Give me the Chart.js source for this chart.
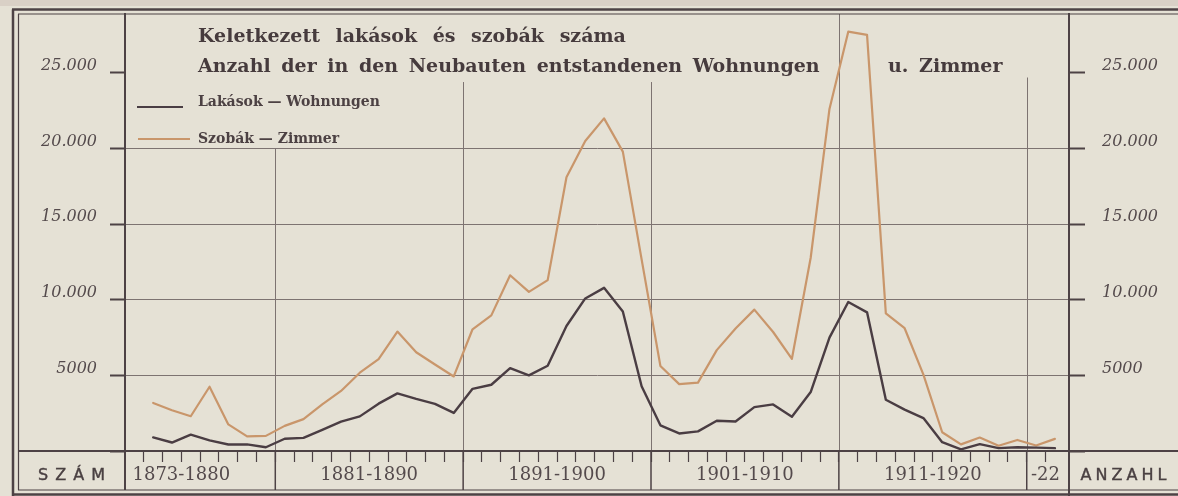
<!DOCTYPE html>
<html lang="hu">
<head>
<meta charset="utf-8">
<title>Keletkezett lakások és szobák száma</title>
<script src="https://cdn.jsdelivr.net/npm/chart.js@4.4.1/dist/chart.umd.min.js"></script>
<style>
  html, body { margin: 0; padding: 0; background: #e5e1d5; }
  #wrap { position: relative; width: 1178px; height: 496px; overflow: hidden; }
  #chart { position: absolute; left: 0; top: 0; }
  .title { position: absolute; left: 198px; font: bold 19px 'DejaVu Serif', serif; line-height: 1; color: #463b3d; white-space: nowrap; word-spacing: 4px; }
  .key { position: absolute; left: 198px; font: bold 14px 'DejaVu Serif', serif; line-height: 1; color: #4c4143; white-space: nowrap; }
  .swatch { position: absolute; height: 0; border-top: 2px solid; }
  .cell { position: absolute; top: 467px; font: 16px 'DejaVu Sans', sans-serif; line-height: 1; color: #4a4042; text-align: center; -webkit-text-stroke: 0.4px #4a4042; }
</style>
</head>
<body>
<div id="wrap">
  <canvas id="chart" width="1178" height="496"></canvas>
  <div class="title" style="top:26px; word-spacing:9px">Keletkezett lakások és szobák száma</div>
  <div class="title" style="top:56px">Anzahl der in den Neubauten entstandenen Wohnungen</div>
  <div class="title" style="top:56px; left:888px">u. Zimmer</div>
  <div class="swatch" id="sw1" style="left:137px; top:106px; width:46px"></div>
  <div class="key" style="top:94px">Lakások — Wohnungen</div>
  <div class="swatch" id="sw2" style="left:138px; top:138px; width:52px"></div>
  <div class="key" style="top:131px">Szobák — Zimmer</div>
  <div class="cell" style="left:18px; width:107px; letter-spacing:7px; padding-left:7px; box-sizing:border-box">SZÁM</div>
  <div class="cell" style="left:1069px; width:109px; letter-spacing:4px; padding-left:4px; box-sizing:border-box">ANZAHL</div>
</div>
<script>
// Yearly figures, one point per year
const years = [1874, 1875, 1876, 1877, 1878, 1879, 1880,
  1881, 1882, 1883, 1884, 1885, 1886, 1887, 1888, 1889, 1890,
  1891, 1892, 1893, 1894, 1895, 1896, 1897, 1898, 1899, 1900,
  1901, 1902, 1903, 1904, 1905, 1906, 1907, 1908, 1909, 1910,
  1911, 1912, 1913, 1914, 1915, 1916, 1917, 1918, 1919, 1920,
  1921, 1922];

// Lakások — Wohnungen
const lakasok = [900, 560, 1080, 700, 430, 440, 250,
  810, 870, 1390, 1940, 2290, 3130, 3810, 3450, 3120, 2520,
  4110, 4380, 5480, 5000, 5640, 8270, 10090, 10790, 9230, 4280,
  1700, 1160, 1300, 2000, 1950, 2900, 3080, 2260, 3900, 7500,
  9850, 9170, 3390, 2740, 2180, 580, 110, 450, 190, 245,
  220, 190];

// Szobák — Zimmer
const szobak = [3175, 2700, 2300, 4250, 1760, 965, 1000,
  1660, 2110, 3080, 3970, 5180, 6070, 7900, 6530, 5720, 4930,
  8050, 8970, 11620, 10520, 11300, 18100, 20500, 22000, 19800, 12670,
  5620, 4420, 4520, 6670, 8100, 9350, 7870, 6100, 12780, 22620,
  27730, 27520, 9100, 8120, 5050, 1240, 440, 890, 350, 730,
  360, 800];

// Period labels on the bottom strip and the year tick they sit under
const periodLabels = ['1873-1880', '1881-1890', '1891-1900', '1901-1910', '1911-1920', '-22'];
const periodLabelAt = [1876, 1886, 1896, 1906, 1916, 1922];
const periodStarts = [1881, 1891, 1901, 1911, 1921];

const yTickValues = [0, 5000, 10000, 15000, 20000, 25000];

const PAPER = '#e5e1d5';
const INK = '#4d4245';
const GRID = '#7d7371';
const LABEL = '#544a4c';
const COLOR_LAKAS = '#4a3d43';
const COLOR_SZOBA = '#c9966b';

const X_MIN = 1873, X_MAX = 1923.25;
const Y_MAX = 28900;
const FRAME_BOTTOM = 490;

document.getElementById('sw1').style.borderColor = COLOR_LAKAS;
document.getElementById('sw2').style.borderColor = COLOR_SZOBA;

// where each decade divider starts at the top (kept clear of the heading)
const dividerTop = { 1881: 20000, 1891: 24400, 1901: 24400, 1911: Y_MAX, 1921: 24700 };

function line(ctx, x1, y1, x2, y2) {
  ctx.beginPath();
  ctx.moveTo(x1, y1);
  ctx.lineTo(x2, y2);
  ctx.stroke();
}

const paperAndFrame = {
  id: 'paperAndFrame',
  beforeDraw(chart) {
    const { ctx, width, height } = chart;
    ctx.save();
    ctx.fillStyle = PAPER;
    ctx.fillRect(0, 0, width, height);
    ctx.fillStyle = '#d9d0c6';
    ctx.fillRect(0, 0, width, 6);
    ctx.restore();
  },
  beforeDatasetsDraw(chart) {
    const { ctx, chartArea, scales: { x, y } } = chart;
    ctx.save();
    ctx.strokeStyle = GRID;
    ctx.lineWidth = 1;
    periodStarts.forEach(yr => {
      const px = Math.round(x.getPixelForValue(yr)) + 0.5;
      line(ctx, px, y.getPixelForValue(dividerTop[yr]), px, chartArea.bottom);
    });
    ctx.restore();
  },
  afterDraw(chart) {
    const { ctx, chartArea, width, height, scales: { x } } = chart;
    ctx.save();
    ctx.strokeStyle = INK;

    // bottom strip: top rule and cell walls
    ctx.lineWidth = 2;
    line(ctx, 18, chartArea.bottom, width, chartArea.bottom);
    line(ctx, chartArea.left, chartArea.bottom, chartArea.left, FRAME_BOTTOM);
    line(ctx, chartArea.right, chartArea.bottom, chartArea.right, height);
    ctx.lineWidth = 1.5;
    periodStarts.forEach(yr => {
      const px = x.getPixelForValue(yr);
      line(ctx, px, chartArea.bottom, px, FRAME_BOTTOM);
    });

    // double frame
    ctx.lineWidth = 2.5;
    line(ctx, 13, 9.5, 13, height);
    line(ctx, 12, 9.5, width, 9.5);
    line(ctx, 12, 494.5, width, 494.5);
    ctx.lineWidth = 1.2;
    line(ctx, 18.5, 14, 18.5, FRAME_BOTTOM);
    line(ctx, 18, 14, width, 14);
    line(ctx, 18, FRAME_BOTTOM, width, FRAME_BOTTOM);
    ctx.restore();
  }
};

function formatCount(v) {
  if (v === 0) return '';
  return v >= 10000 ? (v / 1000) + '.000' : String(v);
}

// no extra room around the axes: the chart area is set by the fixed sizes
function noPadding(s) {
  s.paddingTop = 0;
  s.paddingBottom = 0;
  s.paddingLeft = 0;
  s.paddingRight = 0;
}

function yAxis(position) {
  const left = position === 'left';
  return {
    type: 'linear',
    position: position,
    min: 0,
    max: Y_MAX,
    afterBuildTicks: s => { s.ticks = yTickValues.map(v => ({ value: v })); },
    afterFit: s => { s.width = left ? 125 : 109; noPadding(s); },
    grid: {
      drawOnChartArea: left,
      color: c => (c.tick && (c.tick.value === 0 || c.tick.value === 25000)) ? 'rgba(0,0,0,0)' : GRID,
      lineWidth: 1,
      tickLength: left ? 15 : 16,
      tickColor: INK,
      tickWidth: 2
    },
    border: { display: true, color: INK, width: 2 },
    ticks: {
      callback: v => formatCount(v),
      color: LABEL,
      font: { family: "'DejaVu Serif', serif", style: 'italic', size: 16 },
      padding: left ? 13 : 17,
      labelOffset: -7
    }
  };
}

const ctx = document.getElementById('chart').getContext('2d');
new Chart(ctx, {
  type: 'line',
  data: {
    datasets: [
      {
        label: 'Lakások — Wohnungen',
        data: years.map((yr, i) => ({ x: yr + 0.5, y: lakasok[i] })),
        borderColor: COLOR_LAKAS,
        borderWidth: 2.4
      },
      {
        label: 'Szobák — Zimmer',
        data: years.map((yr, i) => ({ x: yr + 0.5, y: szobak[i] })),
        borderColor: COLOR_SZOBA,
        borderWidth: 2.2
      }
    ]
  },
  options: {
    responsive: false,
    animation: false,
    devicePixelRatio: 1,
    layout: { padding: { top: 14, left: 0, right: 0, bottom: 0 } },
    elements: {
      point: { radius: 0 },
      line: { tension: 0, borderJoinStyle: 'round', borderCapStyle: 'round', fill: false }
    },
    plugins: {
      legend: { display: false },
      tooltip: { enabled: false },
      title: { display: false }
    },
    scales: {
      x: {
        type: 'linear',
        position: 'bottom',
        min: X_MIN,
        max: X_MAX,
        afterBuildTicks: s => {
          const t = [];
          for (let yr = 1873; yr <= 1923; yr++) t.push({ value: yr });
          s.ticks = t;
        },
        afterFit: s => { s.height = 45; noPadding(s); },
        grid: {
          drawOnChartArea: false,
          tickLength: 11,
          tickWidth: 1.2,
          tickColor: c => (c.tick && (c.tick.value === 1873 || c.tick.value === 1923)) ? 'rgba(0,0,0,0)' : INK
        },
        border: { display: true, color: INK, width: 2 },
        ticks: {
          autoSkip: false,
          maxRotation: 0,
          padding: 3,
          color: LABEL,
          font: { family: "'DejaVu Serif', serif", size: 18 },
          callback: v => {
            const i = periodLabelAt.indexOf(v);
            return i >= 0 ? periodLabels[i] : '';
          }
        }
      },
      y: yAxis('left'),
      y2: yAxis('right')
    }
  },
  plugins: [paperAndFrame]
});
</script>
</body>
</html>
